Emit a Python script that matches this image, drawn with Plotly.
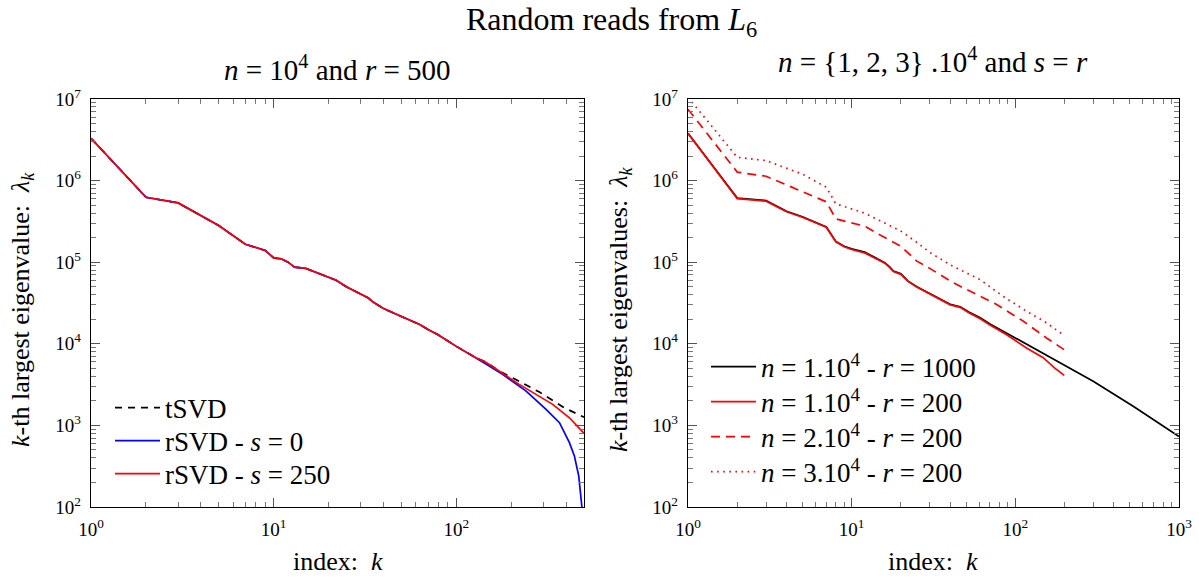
import plotly.graph_objects as go

# ---------------- left panel data (n = 1e4, r = 500) ----------------
k_common = [1, 2, 3, 5, 7, 9, 10, 11, 12, 13, 15, 17, 20, 22, 25, 27, 30, 33, 35,
            40, 45, 50, 55, 63, 70, 79, 100, 128]
lam_common = [3.3e6, 6.25e5, 5.33e5, 2.81e5, 1.66e5, 1.39e5, 1.13e5, 1.10e5, 1.0e5,
              8.7e4, 8.4e4, 7.55e4, 6.45e4, 6.0e4, 5.0e4, 4.6e4, 4.13e4, 3.64e4,
              3.25e4, 2.7e4, 2.4e4, 2.15e4, 1.98e4, 1.72e4, 1.5e4, 1.3e4, 9.3e3, 6.75e3]

k_tsvd_tail = [146, 172, 208, 285, 391, 482, 500]
lam_tsvd_tail = [5.95e3, 4.63e3, 3.73e3, 2.56e3, 1.64e3, 1.30e3, 1.26e3]

k_rsvd0_tail = [146, 180, 241, 310, 367, 416, 443, 468, 482, 488, 492]
lam_rsvd0_tail = [5.6e3, 4.2e3, 2.63e3, 1.57e3, 1.08e3, 6.14e2, 4.21e2, 2.39e2,
                  1.36e2, 1.03e2, 8.0e1]

k_rsvd250_tail = [146, 172, 221, 337, 416, 500]
lam_rsvd250_tail = [5.9e3, 4.6e3, 3.18e3, 1.81e3, 1.24e3, 8.0e2]

# ---------------- right panel data (n = {1,2,3}.1e4, s = r) ----------------
k_n1_r1000 = [1, 2, 3, 4, 5, 6, 7, 8, 9, 10, 12, 14, 16, 17, 18, 20, 22, 25, 30, 35,
              40, 46, 52, 61, 70, 88, 100, 117, 163, 200, 299, 525, 1000]
lam_n1_r1000 = [3.8e6, 6.1e5, 5.7e5, 4.2e5, 3.6e5, 3.1e5, 2.7e5, 1.8e5, 1.57e5, 1.46e5,
                1.33e5, 1.13e5, 9.8e4, 8.8e4, 7.8e4, 7.2e4, 5.9e4, 5.0e4, 4.13e4, 3.5e4,
                3.05e4, 2.85e4, 2.45e4, 2.08e4, 1.75e4, 1.36e4, 1.18e4, 9.8e3, 6.8e3,
                5.5e3, 3.48e3, 1.72e3, 7.3e2]

k_n1_r200 = [1, 2, 3, 4, 5, 6, 7, 8, 9, 10, 12, 14, 16, 17, 18, 20, 22, 25, 30, 35,
             40, 46, 52, 61, 70, 88, 100, 117, 148, 175, 199]
lam_n1_r200 = [3.8e6, 6.0e5, 5.6e5, 4.15e5, 3.55e5, 3.05e5, 2.68e5, 1.78e5, 1.55e5,
               1.43e5, 1.3e5, 1.11e5, 9.7e4, 8.7e4, 7.7e4, 7.1e4, 5.85e4, 4.95e4,
               4.1e4, 3.45e4, 3.0e4, 2.8e4, 2.4e4, 2.03e4, 1.7e4, 1.3e4, 1.1e4,
               8.9e3, 6.75e3, 5.0e3, 4.1e3]

k_n2_r200 = [1, 2, 3, 5, 7, 8, 10, 12, 15, 20, 25, 30, 40, 46, 77, 112, 155, 189, 200]
lam_n2_r200 = [7.5e6, 1.27e6, 1.13e6, 7.4e5, 5.5e5, 3.4e5, 3.0e5, 2.76e5, 2.14e5,
               1.57e5, 1.03e5, 8.4e4, 5.9e4, 5.07e4, 3.03e4, 1.89e4, 1.18e4, 8.9e3, 8.4e3]

k_n3_r200 = [1, 2, 3, 5, 7, 8, 10, 12, 15, 20, 25, 30, 40, 50, 61, 84, 117, 155, 192, 200]
lam_n3_r200 = [1.05e7, 1.93e6, 1.76e6, 1.2e6, 8.3e5, 5.2e5, 4.5e5, 4.0e5, 3.2e5, 2.4e5,
               1.75e5, 1.32e5, 9.3e4, 7.4e4, 6.1e4, 3.83e4, 2.51e4, 1.81e4, 1.3e4, 1.25e4]

x_tickvals_left = [1, 10, 100]
x_ticktext_left = ["10<sup>0</sup>", "10<sup>1</sup>", "10<sup>2</sup>"]
x_tickvals_right = [1, 10, 100, 1000]
x_ticktext_right = ["10<sup>0</sup>", "10<sup>1</sup>", "10<sup>2</sup>", "10<sup>3</sup>"]
y_tickvals = [1e2, 1e3, 1e4, 1e5, 1e6, 1e7]
y_ticktext = ["10<sup>2</sup>", "10<sup>3</sup>", "10<sup>4</sup>",
              "10<sup>5</sup>", "10<sup>6</sup>", "10<sup>7</sup>"]

FONT = "Liberation Serif"
W, H = 1199, 579
LW = 1.7
LEG_FONT = 27

fig = go.Figure()

# left traces
fig.add_trace(go.Scatter(x=k_common + k_tsvd_tail, y=lam_common + lam_tsvd_tail,
                         mode="lines", name="tSVD",
                         line=dict(color="black", width=LW, dash="7px,6px"),
                         xaxis="x", yaxis="y", legend="legend"))
fig.add_trace(go.Scatter(x=k_common + k_rsvd0_tail, y=lam_common + lam_rsvd0_tail,
                         mode="lines", name="rSVD - <i>s</i> = 0",
                         line=dict(color="#0000ff", width=LW),
                         xaxis="x", yaxis="y", legend="legend2"))
fig.add_trace(go.Scatter(x=k_common + k_rsvd250_tail, y=lam_common + lam_rsvd250_tail,
                         mode="lines", name="rSVD - <i>s</i> = 250",
                         line=dict(color="#ff0000", width=LW),
                         xaxis="x", yaxis="y", legend="legend3"))

# right traces
fig.add_trace(go.Scatter(x=k_n1_r1000, y=lam_n1_r1000, mode="lines",
                         name="<i>n</i> = 1.10<sup>4</sup> - <i>r</i> = 1000",
                         line=dict(color="black", width=LW),
                         xaxis="x2", yaxis="y2", legend="legend4"))
fig.add_trace(go.Scatter(x=k_n1_r200, y=lam_n1_r200, mode="lines",
                         name="<i>n</i> = 1.10<sup>4</sup> - <i>r</i> = 200",
                         line=dict(color="#ff0000", width=LW),
                         xaxis="x2", yaxis="y2", legend="legend5"))
fig.add_trace(go.Scatter(x=k_n2_r200, y=lam_n2_r200, mode="lines",
                         name="<i>n</i> = 2.10<sup>4</sup> - <i>r</i> = 200",
                         line=dict(color="#ff0000", width=LW, dash="9px,6px"),
                         xaxis="x2", yaxis="y2", legend="legend6"))
fig.add_trace(go.Scatter(x=k_n3_r200, y=lam_n3_r200, mode="lines",
                         name="<i>n</i> = 3.10<sup>4</sup> - <i>r</i> = 200",
                         line=dict(color="#ff0000", width=LW, dash="1.6px,4.5px"),
                         xaxis="x2", yaxis="y2", legend="legend7"))

def axis(**kw):
    d = dict(type="log", showline=True, linecolor="black", linewidth=1.4,
             mirror="allticks", ticks="inside", ticklen=9, tickwidth=1,
             tickcolor="#555", showgrid=False, zeroline=False,
             tickfont=dict(family=FONT, size=19, color="black"),
             ticklabelstandoff=5, automargin=False,
             minor=dict(ticks="inside", ticklen=5, tickwidth=1, tickcolor="#777",
                        dtick="D1", showgrid=False))
    d.update(kw)
    return d

def leg(x, yc):
    return dict(x=x / W, y=1 - yc / H, xanchor="left", yanchor="middle",
                bgcolor="rgba(255,255,255,0)", borderwidth=0,
                font=dict(family=FONT, size=LEG_FONT, color="black"),
                itemwidth=45, tracegroupgap=0)

ydom = [1 - 507 / H, 1 - 99 / H]
fig.update_layout(
    width=W, height=H, autosize=False,
    margin=dict(l=0, r=0, t=0, b=0, pad=0, autoexpand=False),
    paper_bgcolor="white", plot_bgcolor="white",
    font=dict(family=FONT, color="black"),
    xaxis=axis(domain=[91 / W, 584 / W], range=[0, 2.69897],
               tickvals=x_tickvals_left, ticktext=x_ticktext_left, anchor="y"),
    yaxis=axis(domain=ydom, range=[2, 7], tickvals=y_tickvals,
               ticktext=y_ticktext, anchor="x"),
    xaxis2=axis(domain=[688 / W, 1179 / W], range=[0, 3],
                tickvals=x_tickvals_right, ticktext=x_ticktext_right, anchor="y2"),
    yaxis2=axis(domain=ydom, range=[2, 7], tickvals=y_tickvals,
                ticktext=y_ticktext, anchor="x2"),
    legend=leg(110, 408),
    legend2=leg(110, 441),
    legend3=leg(110, 474),
    legend4=leg(706, 367),
    legend5=leg(706, 402),
    legend6=leg(706, 437),
    legend7=leg(706, 472),
    showlegend=True,
)

def ann(text, x, y, size, angle=0):
    fig.add_annotation(text=text, xref="paper", yref="paper", x=x / W, y=1 - y / H,
                       xanchor="center", yanchor="middle", showarrow=False,
                       textangle=angle, font=dict(family=FONT, size=size, color="black"))

ann("Random reads from <i>L</i><sub>6</sub>", 611, 21, 32)
ann("<i>n</i> = 10<sup>4</sup> and <i>r</i> = 500", 337, 68, 29)
ann("<i>n</i> = {1, 2, 3} .10<sup>4</sup> and <i>s</i> = <i>r</i>", 933, 60, 29)
ann("index:  <i>k</i>", 338, 561, 26)
ann("index:  <i>k</i>", 933, 561, 26)
ann("<i>k</i>-th largest eigenvalue:  <i>λ</i><sub><i>k</i></sub>", 22, 310, 26, -90)
ann("<i>k</i>-th largest eigenvalues:  <i>λ</i><sub><i>k</i></sub>", 620, 310, 26, -90)

fig.write_html(
    "out.html",
    config={"displayModeBar": False},
    post_script=("document.documentElement.style.margin='0';"
                 "document.documentElement.style.overflow='hidden';"
                 "document.body.style.margin='0';"
                 "document.body.style.overflow='hidden';"),
)
